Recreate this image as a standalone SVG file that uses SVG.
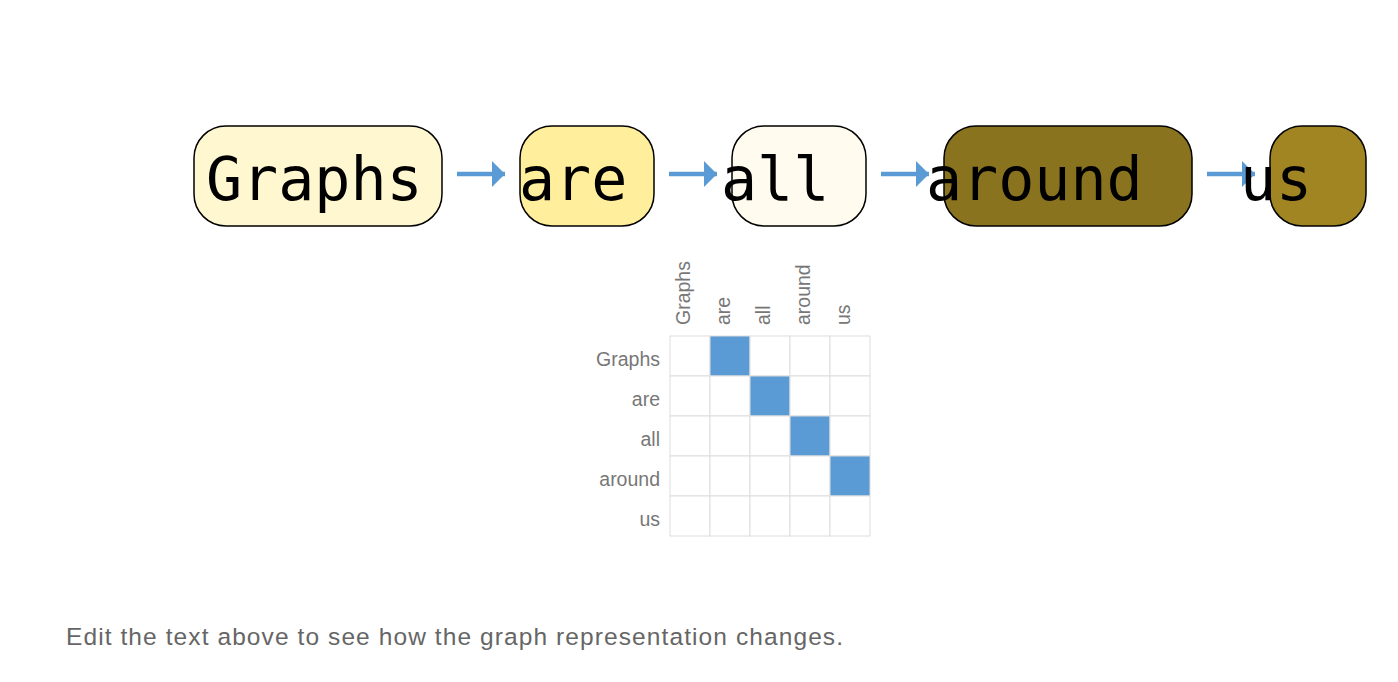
<svg xmlns="http://www.w3.org/2000/svg" width="1398" height="682" viewBox="0 0 1398 682">
<style>
.box{stroke:#000;stroke-width:1.5}
.word{font-family:"DejaVu Sans Mono",monospace;font-size:60px;fill:#000}
.arrow{stroke:#5b9bd5;stroke-width:4.5;fill:none}
.lbl{font-family:"Liberation Sans",Arial,sans-serif;font-size:19.5px;fill:#777}
.cell{fill:#fff;stroke:#ddd;stroke-width:1}
.on{fill:#5b9bd5}
.note{font-family:"Liberation Sans",Arial,sans-serif;font-size:24.5px;fill:#666}
</style>
<defs>
<marker id="ah" markerUnits="userSpaceOnUse" markerWidth="14" markerHeight="28" refX="13" refY="13" orient="auto" viewBox="0 0 14 28">
<path d="M0,0 L13,13 L0,26 Z" fill="#5b9bd5"/>
</marker>
</defs>
<rect width="1398" height="682" fill="#fff"/>
<g id="connectors">
<line class="arrow" x1="457" y1="174" x2="505" y2="174" marker-end="url(#ah)"/>
<line class="arrow" x1="669" y1="174" x2="717" y2="174" marker-end="url(#ah)"/>
<line class="arrow" x1="881" y1="174" x2="929" y2="174" marker-end="url(#ah)"/>
<line class="arrow" x1="1207" y1="174" x2="1255" y2="174" marker-end="url(#ah)"/>
</g>
<g id="node-graphs">
<rect class="box" x="194" y="126" width="248" height="100" rx="32" fill="#fff7cf"/>
<text class="word" x="206" y="200">Graphs</text>
</g>
<g id="node-are">
<rect class="box" x="520" y="126" width="134" height="100" rx="32" fill="#ffee9b"/>
<text class="word" x="519" y="200">are</text>
</g>
<g id="node-all">
<rect class="box" x="732" y="126" width="134" height="100" rx="32" fill="#fffbee"/>
<text class="word" x="721" y="200">all</text>
</g>
<g id="node-around">
<rect class="box" x="944" y="126" width="248" height="100" rx="32" fill="#8a731e"/>
<text class="word" x="926" y="200">around</text>
</g>
<g id="node-us">
<rect class="box" x="1270" y="126" width="96" height="100" rx="32" fill="#a08522"/>
<text class="word" x="1240" y="200">us</text>
</g>
<g id="matrix">
<g id="col-labels">
<text class="lbl" transform="translate(690,325) rotate(-90)">Graphs</text>
<text class="lbl" transform="translate(730,325) rotate(-90)">are</text>
<text class="lbl" transform="translate(770,325) rotate(-90)">all</text>
<text class="lbl" transform="translate(810,325) rotate(-90)">around</text>
<text class="lbl" transform="translate(850,325) rotate(-90)">us</text>
</g>
<g id="row-labels" text-anchor="end">
<text class="lbl" x="660" y="366">Graphs</text>
<text class="lbl" x="660" y="406">are</text>
<text class="lbl" x="660" y="446">all</text>
<text class="lbl" x="660" y="486">around</text>
<text class="lbl" x="660" y="526">us</text>
</g>
<g id="cells">
<rect class="cell" x="670" y="336" width="40" height="40"/><rect class="cell on" x="710" y="336" width="40" height="40"/><rect class="cell" x="750" y="336" width="40" height="40"/><rect class="cell" x="790" y="336" width="40" height="40"/><rect class="cell" x="830" y="336" width="40" height="40"/>
<rect class="cell" x="670" y="376" width="40" height="40"/><rect class="cell" x="710" y="376" width="40" height="40"/><rect class="cell on" x="750" y="376" width="40" height="40"/><rect class="cell" x="790" y="376" width="40" height="40"/><rect class="cell" x="830" y="376" width="40" height="40"/>
<rect class="cell" x="670" y="416" width="40" height="40"/><rect class="cell" x="710" y="416" width="40" height="40"/><rect class="cell" x="750" y="416" width="40" height="40"/><rect class="cell on" x="790" y="416" width="40" height="40"/><rect class="cell" x="830" y="416" width="40" height="40"/>
<rect class="cell" x="670" y="456" width="40" height="40"/><rect class="cell" x="710" y="456" width="40" height="40"/><rect class="cell" x="750" y="456" width="40" height="40"/><rect class="cell" x="790" y="456" width="40" height="40"/><rect class="cell on" x="830" y="456" width="40" height="40"/>
<rect class="cell" x="670" y="496" width="40" height="40"/><rect class="cell" x="710" y="496" width="40" height="40"/><rect class="cell" x="750" y="496" width="40" height="40"/><rect class="cell" x="790" y="496" width="40" height="40"/><rect class="cell" x="830" y="496" width="40" height="40"/>
</g>
</g>
<text class="note" x="66" y="645" textLength="777" lengthAdjust="spacing">Edit the text above to see how the graph representation changes.</text>
</svg>
